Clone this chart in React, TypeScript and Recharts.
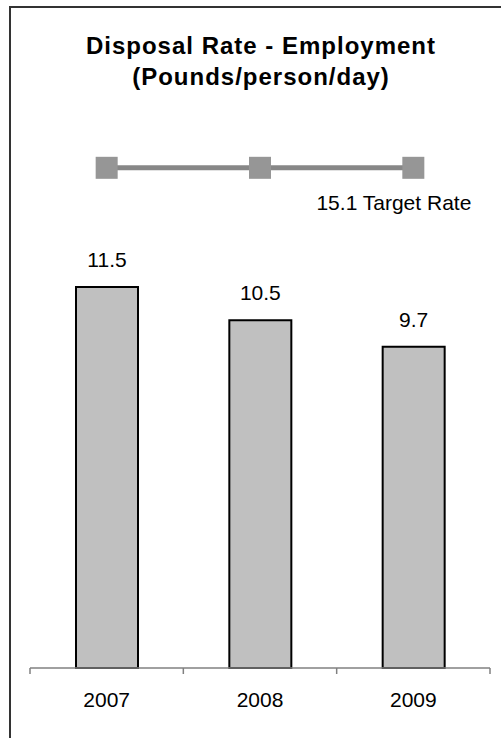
import React from 'react';
import { ComposedChart, Bar, Line, XAxis, YAxis, LabelList } from 'recharts';

const years = ['2007', '2008', '2009'];
const disposalRates = [11.5, 10.5, 9.7];
const targetRates = [15.1, 15.1, 15.1];
const targetLabel = 'Target Rate';
const titleLines = ['Disposal Rate - Employment', '(Pounds/person/day)'];

const data = years.map((y, i) => ({ year: y, rate: disposalRates[i], target: targetRates[i] }));

const FONT = '"Liberation Sans", Arial, sans-serif';

const SquareDot = (props: any) => {
  const { cx, cy } = props;
  if (cx == null || cy == null) return null;
  const s = 22;
  return <rect x={cx - s / 2} y={cy - s / 2} width={s} height={s} fill="#969696" />;
};

const TargetLabel = (props: any) => {
  const { x, y, value, index } = props;
  if (index !== data.length - 1) return null;
  return (
    <text x={x + 58} y={y + 42.5} textAnchor="end" fontSize={21} fontFamily={FONT} fill="#000">
      {`${value} ${targetLabel}`}
    </text>
  );
};

const Tick = (props: any) => {
  const { x, y, payload, index } = props;
  const half = payload && payload.offset ? payload.offset : 460 / years.length / 2;
  const axisY = y - 24;
  return (
    <g>
      <line x1={x - half} x2={x - half} y1={axisY} y2={axisY + 6} stroke="#808080" strokeWidth={1.5} />
      {index === years.length - 1 && (
        <line x1={x + half} x2={x + half} y1={axisY} y2={axisY + 6} stroke="#808080" strokeWidth={1.5} />
      )}
      <text x={x} y={y + 14.5} textAnchor="middle" fontSize={21} fontFamily={FONT} fill="#000">
        {payload.value}
      </text>
    </g>
  );
};

export default function App() {
  return (
    <div style={{ position: 'absolute', left: 0, top: 0, width: 501, height: 738, overflow: 'hidden', background: '#fff' }}>
      <div
        style={{
          position: 'absolute',
          left: 9,
          top: 6,
          width: 492,
          height: 732,
          boxSizing: 'border-box',
          borderTop: '2px solid #333',
          borderLeft: '2px solid #333',
        }}
      />
      <div
        style={{
          position: 'absolute',
          left: 11,
          width: 500,
          top: 30,
          textAlign: 'center',
          fontFamily: FONT,
          fontWeight: 'bold',
          fontSize: 24,
          letterSpacing: 1,
          lineHeight: '31px',
          color: '#000',
        }}
      >
        <div>{titleLines[0]}</div>
        <div>{titleLines[1]}</div>
      </div>
      <div style={{ position: 'absolute', left: 0, top: 0 }}>
        <ComposedChart width={501} height={738} data={data} margin={{ top: 138, right: 11, bottom: 40, left: 30 }}>
          <XAxis
            dataKey="year"
            height={30}
            axisLine={{ stroke: '#808080', strokeWidth: 1.5 }}
            tickLine={false}
            tick={<Tick />}
            tickMargin={18}
            interval={0}
          />
          <YAxis hide domain={[0, 16]} />
          <Bar dataKey="rate" fill="#C0C0C0" stroke="#000" strokeWidth={2} barSize={62} isAnimationActive={false}>
            <LabelList dataKey="rate" position="top" offset={20} fontSize={21} fontFamily={FONT} fill="#000" />
          </Bar>
          <Line
            dataKey="target"
            stroke="#878787"
            strokeWidth={5}
            dot={<SquareDot />}
            activeDot={false}
            isAnimationActive={false}
          >
            <LabelList dataKey="target" content={<TargetLabel />} />
          </Line>
        </ComposedChart>
      </div>
    </div>
  );
}
